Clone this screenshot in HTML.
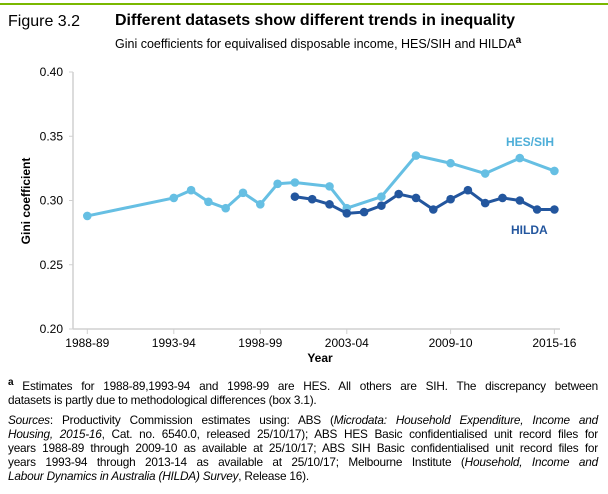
<!DOCTYPE html>
<html><head><meta charset="utf-8"><style>
body{margin:0;width:608px;height:494px;background:#fff;font-family:"Liberation Sans",Arial,sans-serif;position:relative;overflow:hidden}
.t{position:absolute;white-space:nowrap;color:#000}
.n{position:absolute;left:8px;width:590px;font-size:11.8px;letter-spacing:-0.2px;line-height:14px;white-space:nowrap;color:#000}
.n div{text-align:justify;text-align-last:justify;height:14px;overflow:visible}
.n div.l{text-align-last:left}
sup{line-height:0}
</style></head><body>
<div style="position:absolute;left:0;top:3px;width:608px;height:2px;background:#7ab800"></div>
<div class="t" style="left:8px;top:13px;font-size:16px">Figure 3.2</div>
<div class="t" style="left:115px;top:12px;font-size:16px;font-weight:bold">Different datasets show different trends in inequality</div>
<div class="t" style="left:115px;top:37px;font-size:12.5px">Gini coefficients for equivalised disposable income, HES/SIH and HILDA<sup style="font-weight:bold;font-size:10px">a</sup></div>
<svg width="608" height="370" style="position:absolute;left:0;top:0" id="svg"></svg>
<div class="n" style="top:379px">
<div><sup style="font-weight:bold;font-size:10px">a</sup> Estimates for 1988-89,1993-94 and 1998-99 are HES. All others are SIH. The discrepancy between</div>
<div class="l">datasets is partly due to methodological differences (box 3.1).</div></div>
<div class="n" style="top:413px">
<div><i>Sources</i>: Productivity Commission estimates using: ABS (<i>Microdata: Household Expenditure, Income and</i></div>
<div><i>Housing, 2015-16</i>, Cat. no. 6540.0, released 25/10/17); ABS HES Basic confidentialised unit record files for</div>
<div>years 1988-89 through 2009-10 as available at 25/10/17; ABS SIH Basic confidentialised unit record files for</div>
<div>years 1993-94 through 2013-14 as available at 25/10/17; Melbourne Institute (<i>Household, Income and</i></div>
<div class="l"><i>Labour Dynamics in Australia (HILDA) Survey</i>, Release 16).</div></div>
<script>
const hesYears=[1988,1993,1994,1995,1996,1997,1998,1999,2000,2002,2003,2005,2007,2009,2011,2013,2015];
const hesValues=[0.288,0.302,0.308,0.299,0.294,0.306,0.297,0.313,0.314,0.311,0.294,0.303,0.335,0.329,0.321,0.333,0.323];
const hildaYears=[2000,2001,2002,2003,2004,2005,2006,2007,2008,2009,2010,2011,2012,2013,2014,2015];
const hildaValues=[0.303,0.301,0.297,0.290,0.291,0.296,0.305,0.302,0.293,0.301,0.308,0.298,0.302,0.300,0.293,0.293];
const yTicks=[0.20,0.25,0.30,0.35,0.40];
const xTickYears=[1988,1993,1998,2003,2009,2015];
const xTickLabels=["1988-89","1993-94","1998-99","2003-04","2009-10","2015-16"];
const svg=document.getElementById('svg');const NS="http://www.w3.org/2000/svg";
const X=y=>87.3+(y-1988)*17.3;const Y=v=>329-(v-0.20)/0.20*257;
function mk(t,a,p){const e=document.createElementNS(NS,t);for(const k in a)e.setAttribute(k,a[k]);(p||svg).appendChild(e);return e;}
let e=mk('line',{x1:73,y1:72,x2:73,y2:329,stroke:'#d0d0d0','stroke-width':1.5});


e=mk('line',{x1:73,y1:329,x2:560,y2:329,stroke:'#d0d0d0','stroke-width':1.5});


yTicks.forEach(v=>{const t=mk('text',{x:63,y:Y(v)+4,'text-anchor':'end','font-size':12,fill:'#000'});t.textContent=v.toFixed(2);


mk('line',{x1:69,y1:Y(v),x2:73,y2:Y(v),stroke:'#d0d0d0'});});
xTickYears.forEach((yr,i)=>{mk('line',{x1:X(yr),y1:329,x2:X(yr),y2:334,stroke:'#d0d0d0'});
const t=mk('text',{x:X(yr),y:347,'text-anchor':'middle','font-size':12,fill:'#000'});t.textContent=xTickLabels[i];

});
let t=mk('text',{x:320,y:362,'text-anchor':'middle','font-size':12,'font-weight':'bold'});t.textContent='Year';


t=mk('text',{x:0,y:0,'text-anchor':'middle','font-size':12,'font-weight':'bold',transform:'translate(30,201) rotate(-90)'});t.textContent='Gini coefficient';


function series(ys,vs,col,name){const l=mk('polyline',{points:ys.map((y,i)=>X(y)+','+Y(vs[i])).join(' '),fill:'none',stroke:col,'stroke-width':3,'stroke-linejoin':'round'});


ys.forEach((y,i)=>{const c=mk('circle',{cx:X(y),cy:Y(vs[i]),r:4.3,fill:col});

});}
series(hesYears,hesValues,'#66bfe3','hes-sih');
series(hildaYears,hildaValues,'#23569e','hilda');
t=mk('text',{x:506,y:146,'font-size':12,'font-weight':'bold',fill:'#4daed8'});t.textContent='HES/SIH';


t=mk('text',{x:511,y:234,'font-size':12,'font-weight':'bold',fill:'#23569e'});t.textContent='HILDA';


</script>
</body></html>
